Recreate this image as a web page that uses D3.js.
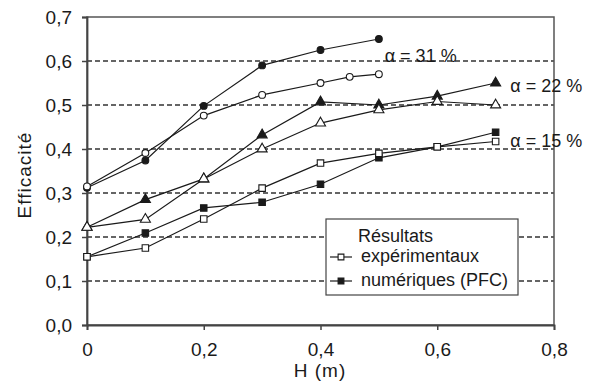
<!DOCTYPE html>
<html>
<head>
<meta charset="utf-8">
<script src="https://cdn.jsdelivr.net/npm/d3@7"></script>
<style>
  html, body { margin: 0; padding: 0; background: #fff; }
  text { font-family: Arial, "Liberation Sans", sans-serif; fill: #1a1a1a; }
</style>
</head>
<body>
<div id="chart"></div>
<script>
const width = 592
const height = 383
const margin = { top: 17, right: 38, bottom: 58, left: 87 }

const xTicks = [0, 0.2, 0.4, 0.6, 0.8]
const yTicks = [0, 0.1, 0.2, 0.3, 0.4, 0.5, 0.6, 0.7]
const gridValues = [0.1, 0.2, 0.3, 0.4, 0.5, 0.6]

// alpha = 31 %
const h31num = [0, 0.1, 0.2, 0.3, 0.4, 0.5]
const e31num = [0.312, 0.374, 0.498, 0.59, 0.625, 0.65]
const h31exp = [0, 0.1, 0.2, 0.3, 0.4, 0.45, 0.5]
const e31exp = [0.315, 0.391, 0.476, 0.523, 0.55, 0.564, 0.57]

// alpha = 22 %
const h22num = [0, 0.1, 0.2, 0.3, 0.4, 0.5, 0.6, 0.7]
const e22num = [0.222, 0.285, 0.332, 0.432, 0.507, 0.5, 0.52, 0.55]
const h22exp = [0, 0.1, 0.2, 0.3, 0.4, 0.5, 0.6, 0.7]
const e22exp = [0.222, 0.24, 0.332, 0.4, 0.459, 0.489, 0.508, 0.5]

// alpha = 15 %
const h15num = [0, 0.1, 0.2, 0.3, 0.4, 0.5, 0.6, 0.7]
const e15num = [0.155, 0.209, 0.266, 0.279, 0.32, 0.38, 0.405, 0.438]
const h15exp = [0, 0.1, 0.2, 0.3, 0.4, 0.5, 0.6, 0.7]
const e15exp = [0.155, 0.175, 0.241, 0.311, 0.368, 0.39, 0.405, 0.417]

const series = [
  { h: h31num, e: e31num, shape: 'circle', filled: true },
  { h: h31exp, e: e31exp, shape: 'circle', filled: false },
  { h: h22num, e: e22num, shape: 'triangle', filled: true },
  { h: h22exp, e: e22exp, shape: 'triangle', filled: false },
  { h: h15num, e: e15num, shape: 'square', filled: true },
  { h: h15exp, e: e15exp, shape: 'square', filled: false },
]

const labels = [
  { text: 'α = 31 %', h: 0.51, e: 0.597 },
  { text: 'α = 22 %', h: 0.725, e: 0.53 },
  { text: 'α = 15 %', h: 0.725, e: 0.405 },
]

const ink = '#1a1a1a'
const fontSize = 18

const svg = d3.select('#chart').append('svg')
  .attr('width', width)
  .attr('height', height)

const x = d3.scaleLinear().domain([0, 0.8]).range([margin.left, width - margin.right])
const y = d3.scaleLinear().domain([0, 0.7]).range([height - margin.bottom, margin.top])

const fmt = d => d3.format('.1f')(d).replace('.', ',')
const fmtX = d => d === 0 ? '0' : d3.format('.1f')(d).replace('.', ',')

// dashed grid
svg.append('g')
  .selectAll('line')
  .data(gridValues)
  .join('line')
  .attr('x1', x(0)).attr('x2', x(0.8))
  .attr('y1', d => y(d)).attr('y2', d => y(d))
  .attr('stroke', '#333')
  .attr('stroke-width', 1.3)
  .attr('stroke-dasharray', '5,3')

// frame
svg.append('rect')
  .attr('x', x(0)).attr('y', y(0.7))
  .attr('width', x(0.8) - x(0)).attr('height', y(0) - y(0.7))
  .attr('fill', 'none')
  .attr('stroke', '#555')
  .attr('stroke-width', 1.5)

// axes
const xAxis = svg.append('g')
  .attr('transform', `translate(0,${y(0)})`)
  .call(d3.axisBottom(x).tickValues(xTicks).tickFormat(fmtX).tickSize(5).tickPadding(13))
const yAxis = svg.append('g')
  .attr('transform', `translate(${x(0)},0)`)
  .call(d3.axisLeft(y).tickValues(yTicks).tickFormat(fmt).tickSize(5).tickPadding(10))

;[xAxis, yAxis].forEach(a => {
  a.select('.domain').attr('stroke', '#444').attr('stroke-width', 1.8)
  a.selectAll('.tick line').attr('stroke', '#444').attr('stroke-width', 1.5)
  a.selectAll('.tick text')
    .attr('font-size', 19)
    .attr('fill', '#1a1a1a')
    .style('font-family', 'Arial, "Liberation Sans", sans-serif')
})

// axis titles
svg.append('text')
  .attr('x', 320)
  .attr('y', 377)
  .attr('text-anchor', 'middle')
  .attr('font-size', 19)
  .attr('letter-spacing', 1)
  .text('H (m)')

svg.append('text')
  .attr('transform', `translate(31,175) rotate(-90)`)
  .attr('text-anchor', 'middle')
  .attr('font-size', 19)
  .attr('letter-spacing', 1)
  .text('Efficacité')

// symbols
const symbolType = { circle: d3.symbolCircle, triangle: d3.symbolTriangle, square: d3.symbolSquare }
const symbolSize = { circle: 36, triangle: 44, square: 42 }

function drawSymbol(g, shape, filled, cx, cy, scale = 1) {
  g.append('path')
    .attr('d', d3.symbol().type(symbolType[shape]).size(symbolSize[shape] * scale)())
    .attr('transform', `translate(${cx},${cy})`)
    .attr('fill', filled ? ink : '#fff')
    .attr('stroke', ink)
    .attr('stroke-width', 1.1)
}

const line = d3.line().x(d => x(d[0])).y(d => y(d[1]))
const plot = svg.append('g')

series.forEach(s => {
  const pts = s.h.map((h, i) => [h, s.e[i]])
  plot.append('path')
    .datum(pts)
    .attr('d', line)
    .attr('fill', 'none')
    .attr('stroke', ink)
    .attr('stroke-width', 1.2)
})

series.forEach(s => {
  const g = plot.append('g')
  s.h.forEach((h, i) => drawSymbol(g, s.shape, s.filled, x(h), y(s.e[i])))
})

// alpha labels
svg.append('g')
  .selectAll('text')
  .data(labels)
  .join('text')
  .attr('x', d => x(d.h))
  .attr('y', d => y(d.e))
  .attr('font-size', fontSize)
  .text(d => d.text)

// legend
const legend = svg.append('g').attr('transform', 'translate(326,219)')
legend.append('rect')
  .attr('width', 192).attr('height', 76)
  .attr('fill', '#fff')
  .attr('stroke', '#444')
  .attr('stroke-width', 1.2)
legend.append('text').attr('x', 32).attr('y', 23).attr('font-size', fontSize).text('Résultats')

const legendItems = [
  { label: 'expérimentaux', filled: false, y: 43 },
  { label: 'numériques (PFC)', filled: true, y: 67 },
]
legendItems.forEach(it => {
  legend.append('line')
    .attr('x1', 4).attr('x2', 26)
    .attr('y1', it.y - 5).attr('y2', it.y - 5)
    .attr('stroke', ink).attr('stroke-width', 1.2)
  drawSymbol(legend, 'square', it.filled, 15, it.y - 5, 0.8)
  legend.append('text').attr('x', 35).attr('y', it.y).attr('font-size', fontSize).text(it.label)
})
</script>
</body>
</html>
